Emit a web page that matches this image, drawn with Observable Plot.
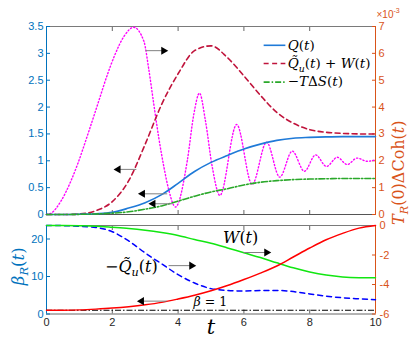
<!DOCTYPE html>
<html><head><meta charset="utf-8">
<script src="https://cdn.jsdelivr.net/npm/d3@7"></script>
<script src="https://cdn.jsdelivr.net/npm/@observablehq/plot@0.6"></script>
<style>body{margin:0;background:#fff}#c{width:415px;line-height:0}#c svg{display:block}</style>
</head><body><div id="c"></div>
<script>
// ---------- data ----------
const tGrid = [0,0.5,1,1.5,2,2.5,3,3.5,4,4.5,5,5.5,6,6.5,7,7.5,8,8.5,9,9.5,10];
// top panel, left axis
const Q    = [0,0,0.005,0.015,0.04,0.12,0.22,0.37,0.58,0.8,0.97,1.1,1.22,1.31,1.38,1.42,1.435,1.445,1.45,1.45,1.45];
const QuW  = [0,0,0.01,0.07,0.24,0.63,1.31,2.05,2.62,3.05,3.14,2.92,2.58,2.22,1.9,1.7,1.58,1.53,1.51,1.5,1.5];
const TdS  = [0,0,0.003,0.01,0.025,0.05,0.1,0.16,0.25,0.34,0.42,0.48,0.55,0.6,0.63,0.65,0.66,0.665,0.67,0.67,0.67];
// top panel, right axis (units of 1e-3)
const tCoh = [0,0.14,0.45,0.75,0.95,1.26,1.56,1.86,2.07,2.37,2.65,2.96,3.11,3.26,3.41,3.57,3.72,3.92,4.28,4.48,4.65,4.83,5.04,5.27,5.78,6.25,6.69,7.09,7.47,7.84,8.18,8.51,8.84,9.14,9.44,9.75,10];
const Coh  = [0,0.05,0.52,1.27,1.89,3.0,4.12,5.24,5.92,6.66,6.97,6.45,5.4,4.12,2.88,1.76,0.9,0.28,2.01,3.75,4.52,3.5,1.76,0.71,3.35,1.12,2.69,1.39,2.36,1.61,2.22,1.79,2.13,1.86,2.1,1.98,2.04];
// bottom panel, left axis
const betaR = [1,1.02,1.1,1.3,1.57,1.95,2.45,3.1,4.0,5.0,6.2,7.6,9.2,10.9,12.8,15.2,17.6,19.8,21.5,22.9,23.6];
const betaRef = [1];
// bottom panel, right axis
const Wt   = [0,-0.005,-0.02,-0.05,-0.12,-0.2,-0.32,-0.48,-0.68,-0.95,-1.2,-1.52,-1.85,-2.17,-2.53,-2.87,-3.15,-3.36,-3.49,-3.54,-3.55];
const mQu  = [0,-0.01,-0.05,-0.13,-0.42,-1.05,-1.86,-2.6,-3.33,-3.9,-4.28,-4.4,-4.44,-4.41,-4.4,-4.48,-4.64,-4.79,-4.9,-4.97,-5.03];
// ticks
const xTickLabels = [0,2,4,6,8,10];
const xTicksInner = [2,4,6,8];
const topLeftTicks = [0,0.5,1,1.5,2,2.5,3,3.5];
const topRightTicks = [0,1,2,3,4,5,6,7];
const botLeftTicks = [0,10,20];
const botRightTicks = [-6,-4,-2,0];
// annotations (data units)
const topArrows = [
  {t1:3.01,v1:3.05,t2:3.62,v2:3.05},
  {t1:2.73,v1:0.84,t2:2.12,v2:0.84},
  {t1:3.67,v1:0.385,t2:2.86,v2:0.385},
  {t1:3.82,v1:0.2,t2:3.18,v2:0.2}
];
const botArrows = [
  {t1:5.99,v1:16.4,t2:6.75,v2:16.4},
  {t1:3.71,v1:12.9,t2:4.47,v2:12.9},
  {t1:3.65,v1:3.43,t2:2.83,v2:3.43}
];
const legendNames = ["$Q$($t$)", "$Q\u0303$_{$u$}($t$) + $W$($t$)", "\u2212$T$\u0394$S$($t$)"];
const botLabels = [
  {s:"$W$($t$)", t:5.9, v:20.2, size:16},
  {s:"\u2212$Q\u0303$_{$u$}($t$)", t:2.58, v:12.7, size:16},
  {s:"$\u03b2$ = 1", t:4.98, v:3.2, size:12.5}
];

// ---------- styles ----------
const W = 415;
const cBlueAx = "#0072BD", cOrangeAx = "#D95319";
const serif = "DejaVu Serif, serif";
const sans = "Liberation Sans, Arial, sans-serif";
const topMax = 3.5, topRightMax = 7;
const toTopLeft = w => w * topMax / topRightMax;
const botMax = 23.6;
const toBotLeft = w => (w + 6) / 6 * botMax;
const fromBotLeft = b => b / botMax * 6 - 6;
const fmt = d => String(+d.toFixed(2));

const rows = (ts, vs) => ts.map((t, i) => ({t, v: vs[i]}));

const legendT1 = 6.6, legendT2 = 7.26, legendTx = 7.33, legendV = [3.15, 2.81, 2.465];
const legendStyles = [
  {stroke:"#1f7ad8", dash:null},
  {stroke:"#c0143c", dash:"5,3.5"},
  {stroke:"#2aa82a", dash:"6,2,1.5,2"}
];
const legendData = legendNames.map((s, i) => ({s, v: legendV[i]}));

function arrowMarks(arr, yf) {
  const right = arr.filter(d => d.t2 > d.t1), left = arr.filter(d => d.t2 < d.t1);
  return [
    Plot.link(arr, {x1:"t1", y1: d => yf(d.v1), x2:"t2", y2: d => yf(d.v2), stroke:"#808080", strokeWidth:1}),
    Plot.dot(right, {x:"t2", y: d => yf(d.v2), symbol:"triangle", r:3, fill:"black", rotate:90, dx:-2}),
    Plot.dot(left, {x:"t2", y: d => yf(d.v2), symbol:"triangle", r:3, fill:"black", rotate:-90, dx:2})
  ];
}

const topChart = Plot.plot({
  width: W, height: 222, marginLeft: 46, marginRight: 40, marginTop: 26, marginBottom: 8,
  x: {domain: [0, 10], label: null}, y: {domain: [0, topMax], label: null},
  style: {fontFamily: sans, fontSize: "11px", background: "white", overflow: "visible"},
  marks: [
    Plot.ruleY([topMax], {stroke:"#7a7a7a"}),
    Plot.ruleY([0], {stroke:"#555"}),
    Plot.ruleX([0], {stroke:cBlueAx}),
    Plot.ruleX([10], {stroke:cOrangeAx}),
    Plot.axisX({anchor:"top", ticks:xTicksInner, tickSize:4, dy:4, tickFormat:()=>"", stroke:"#666", label:null}),
    Plot.axisX({anchor:"bottom", ticks:xTicksInner, tickSize:4, dy:-4, tickFormat:()=>"", stroke:"#666", label:null}),
    Plot.axisY({anchor:"left", ticks:topLeftTicks, tickSize:4, dx:4, tickFormat:()=>"", stroke:cBlueAx, label:null}),
    Plot.axisY({anchor:"left", ticks:topLeftTicks, tickSize:0, tickPadding:3, fill:cBlueAx, tickFormat:fmt, label:null}),
    Plot.axisY({anchor:"right", ticks:topRightTicks.map(toTopLeft), tickSize:4, dx:-4, tickFormat:()=>"", stroke:cOrangeAx, label:null}),
    Plot.axisY({anchor:"right", ticks:topRightTicks.map(toTopLeft), tickSize:0, tickPadding:3, fill:cOrangeAx, tickFormat: d => String(Math.round(d * topRightMax / topMax)), label:null}),
    Plot.line(rows(tCoh, Coh), {x:"t", y: d => toTopLeft(d.v), stroke:"#ff00ff", strokeWidth:1.4, strokeDasharray:"1.2,2.2", curve:"monotone-x"}),
    Plot.line(rows(tGrid, QuW), {x:"t", y:"v", stroke:legendStyles[1].stroke, strokeWidth:1.6, strokeDasharray:legendStyles[1].dash, curve:"monotone-x"}),
    Plot.line(rows(tGrid, Q), {x:"t", y:"v", stroke:legendStyles[0].stroke, strokeWidth:1.6, curve:"monotone-x"}),
    Plot.line(rows(tGrid, TdS), {x:"t", y:"v", stroke:legendStyles[2].stroke, strokeWidth:1.6, strokeDasharray:legendStyles[2].dash, curve:"monotone-x"}),
    ...arrowMarks(topArrows, v => v),
    ...legendData.map((d, i) => Plot.link([d], {x1: () => legendT1, x2: () => legendT2, y1:"v", y2:"v", stroke:legendStyles[i].stroke, strokeWidth:1.6, strokeDasharray:legendStyles[i].dash})),
    Plot.text(legendData, {x: () => legendTx, y:"v", text:"s", textAnchor:"start", fontFamily:serif, fontSize:13.5, fill:"black"}),
    Plot.text(["$T$_{$R$}(0)\u0394Coh($t$)"], {frameAnchor:"right", dx:23, rotate:-90, text:d=>d, fontFamily:serif, fontSize:16, fill:cOrangeAx}),
    Plot.text(["\u00d710^{-3}"], {frameAnchor:"top-right", dx:1, dy:-16, textAnchor:"start", text:d=>d, fontFamily:sans, fontSize:10, fill:cOrangeAx})
  ]
});

const botChart = Plot.plot({
  width: W, height: 124, marginLeft: 46, marginRight: 40, marginTop: 3, marginBottom: 32.5,
  x: {domain: [0, 10], label: null}, y: {domain: [0, botMax], label: null},
  style: {fontFamily: sans, fontSize: "11px", background: "white", overflow: "visible"},
  marks: [
    Plot.ruleY([botMax], {stroke:"#7a7a7a"}),
    Plot.ruleY([0], {stroke:"#666"}),
    Plot.ruleX([0], {stroke:cBlueAx}),
    Plot.ruleX([10], {stroke:cOrangeAx}),
    Plot.axisX({anchor:"top", ticks:xTicksInner, tickSize:4, dy:4, tickFormat:()=>"", stroke:"#666", label:null}),
    Plot.axisX({anchor:"bottom", ticks:xTicksInner, tickSize:4, dy:-4, tickFormat:()=>"", stroke:"#666", label:null}),
    Plot.axisX({anchor:"bottom", ticks:xTickLabels, tickSize:0, tickPadding:4, fill:"#262626", tickFormat:fmt, label:null}),
    Plot.axisY({anchor:"left", ticks:botLeftTicks, tickSize:4, dx:4, tickFormat:()=>"", stroke:cBlueAx, label:null}),
    Plot.axisY({anchor:"left", ticks:botLeftTicks, tickSize:0, tickPadding:3, fill:cBlueAx, tickFormat:fmt, label:null}),
    Plot.axisY({anchor:"right", ticks:botRightTicks.map(toBotLeft), tickSize:4, dx:-4, tickFormat:()=>"", stroke:cOrangeAx, label:null}),
    Plot.axisY({anchor:"right", ticks:botRightTicks.map(toBotLeft), tickSize:0, tickPadding:4, fill:cOrangeAx, tickFormat: d => String(Math.round(fromBotLeft(d))), label:null}),
    Plot.ruleY(betaRef, {stroke:"black", strokeWidth:1.2, strokeDasharray:"6,2,1.5,2"}),
    Plot.line(rows(tGrid, mQu), {x:"t", y: d => toBotLeft(d.v), stroke:"#0000ff", strokeWidth:1.5, strokeDasharray:"5,4", curve:"monotone-x"}),
    Plot.line(rows(tGrid, Wt), {x:"t", y: d => toBotLeft(d.v), stroke:"#11e611", strokeWidth:1.5, curve:"monotone-x"}),
    Plot.line(rows(tGrid, betaR), {x:"t", y:"v", stroke:"#ff0000", strokeWidth:1.5, curve:"monotone-x"}),
    ...arrowMarks(botArrows, v => v),
    ...botLabels.map(d => Plot.text([d], {x:"t", y:"v", text:"s", fontFamily:serif, fontSize:d.size, fill:"black"})),
    Plot.text(["$\u03b2$_{$R$}($t$)"], {frameAnchor:"left", y: () => 7.7, dx:-28, rotate:-90, text:d=>d, fontFamily:serif, fontSize:16.5, fill:cBlueAx}),
    Plot.text(["$t$"], {x: () => 5, frameAnchor:"bottom", dy:20, text:d=>d, fontFamily:serif, fontSize:21, fill:"black"})
  ]
});

const c = document.getElementById("c");
c.appendChild(topChart); c.appendChild(botChart);

// rich text: $..$ italic toggle, _{..} subscript, ^{..} superscript
function rich(el) {
  const s = el.textContent;
  if (!/[$_^]/.test(s)) return;
  const fs = parseFloat(getComputedStyle(el).fontSize);
  while (el.firstChild) el.removeChild(el.firstChild);
  let it = false, lvl = 0, buf = "", cur = 0, one = false;
  const flush = () => {
    if (!buf) return;
    const ts = document.createElementNS("http://www.w3.org/2000/svg", "tspan");
    const off = lvl === 1 ? 0.28 * fs : lvl === -1 ? -0.42 * fs : 0;
    ts.setAttribute("dy", (off - cur).toFixed(2));
    cur = off;
    if (lvl) ts.setAttribute("font-size", (0.7 * fs).toFixed(1));
    ts.setAttribute("font-style", it ? "italic" : "normal");
    ts.textContent = buf;
    el.appendChild(ts);
    buf = "";
  };
  for (let i = 0; i < s.length; i++) {
    const ch = s[i];
    if (ch === "$") { flush(); it = !it; }
    else if (ch === "_" || ch === "^") { flush(); lvl = ch === "_" ? 1 : -1; if (s[i+1] === "{") i++; else one = true; }
    else if (ch === "}" && lvl) { flush(); lvl = 0; }
    else { buf += ch; if (one) { flush(); lvl = 0; one = false; } }
  }
  flush();
}
d3.select(c).selectAll("text").each(function(){ rich(this); });
</script></body></html>
